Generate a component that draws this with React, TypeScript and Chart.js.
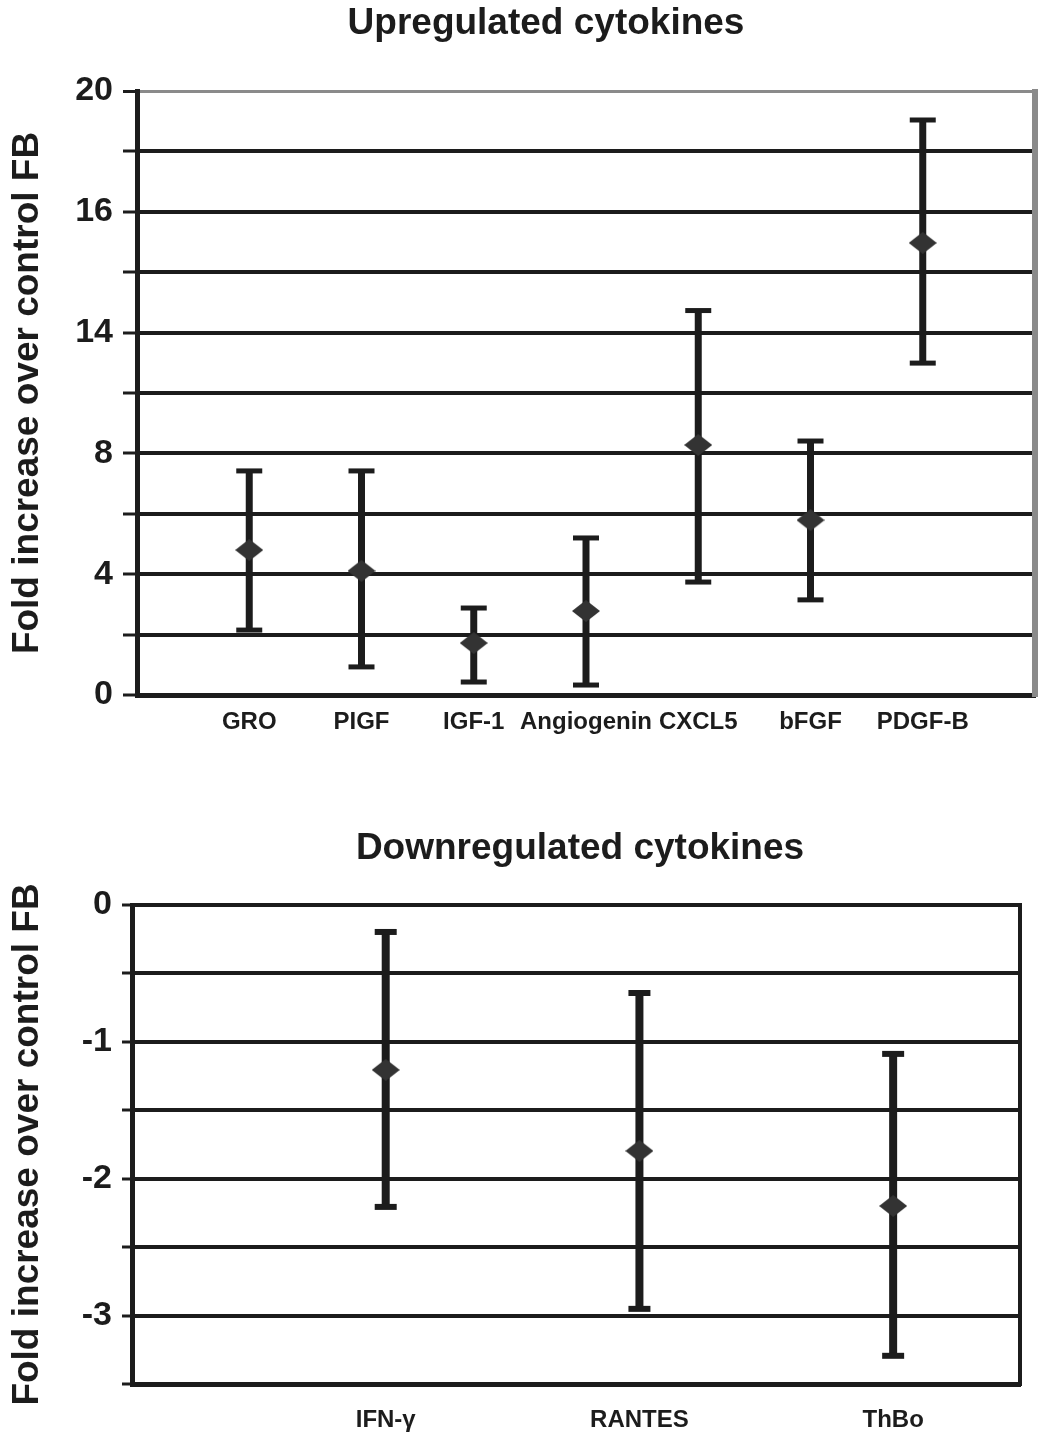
import React, { useEffect, useRef } from "react";
import { Chart, registerables } from "chart.js";

Chart.register(...registerables);

const FONT = '"Liberation Sans", Arial, Helvetica, sans-serif';
const INK = "#1c1c1c";
const GRAY = "#8a8a8a";

// ---------- Upregulated cytokines ----------
const upTitle = "Upregulated cytokines";
const upCategories = ["GRO", "PIGF", "IGF-1", "Angiogenin", "CXCL5", "bFGF", "PDGF-B"];
const upMean = [4.8, 4.11, 1.72, 2.78, 8.28, 5.79, 14.97];
const upLow = [2.15, 0.93, 0.43, 0.33, 3.74, 3.15, 10.99];
const upHigh = [7.42, 7.42, 2.88, 5.2, 12.73, 8.41, 19.04];
const upTickValues = [0, 2, 4, 6, 8, 10, 12, 14, 16, 18, 20];
const upTickLabels = ["0", "", "4", "", "8", "", "14", "", "16", "", "20"];

// ---------- Downregulated cytokines ----------
const downTitle = "Downregulated cytokines";
const downCategories = ["IFN-γ", "RANTES", "ThBo"];
const downMean = [-1.205, -1.797, -2.199];
const downLow = [-2.206, -2.951, -3.294];
const downHigh = [-0.197, -0.643, -1.088];
const downTickValues = [-3.5, -3, -2.5, -2, -1.5, -1, -0.5, 0];
const downTickLabels = ["", "-3", "", "-2", "", "-1", "", "0"];

const yTitle = "Fold increase over control FB";

function makeDiamond(w: number, h: number, color: string) {
  const c = document.createElement("canvas");
  c.width = w;
  c.height = h;
  const g = c.getContext("2d")!;
  g.fillStyle = color;
  g.beginPath();
  g.moveTo(w / 2, 0);
  g.lineTo(w, h / 2);
  g.lineTo(w / 2, h);
  g.lineTo(0, h / 2);
  g.closePath();
  g.fill();
  return c;
}

function errorBarPlugin(id: string, low: number[], high: number[], o: { lw: number; capW: number; capT: number }) {
  return {
    id,
    beforeDatasetsDraw(chart: any) {
      const { ctx, scales } = chart;
      const x = scales.x;
      const y = scales.y;
      ctx.save();
      ctx.strokeStyle = INK;
      ctx.lineCap = "butt";
      low.forEach((lo, i) => {
        const px = x.getPixelForValue(i + 1);
        const yl = y.getPixelForValue(lo);
        const yh = y.getPixelForValue(high[i]);
        ctx.lineWidth = o.lw;
        ctx.beginPath();
        ctx.moveTo(px, yl);
        ctx.lineTo(px, yh);
        ctx.stroke();
        ctx.lineWidth = o.capT;
        [yl, yh].forEach((yy) => {
          ctx.beginPath();
          ctx.moveTo(px - o.capW / 2, yy);
          ctx.lineTo(px + o.capW / 2, yy);
          ctx.stroke();
        });
      });
      ctx.restore();
    },
  };
}

function rightBorderPlugin(id: string, color: string, width: number) {
  return {
    id,
    beforeDatasetsDraw(chart: any) {
      const { ctx, chartArea } = chart;
      ctx.save();
      ctx.strokeStyle = color;
      ctx.lineWidth = width;
      ctx.beginPath();
      ctx.moveTo(chartArea.right, chartArea.top - 2);
      ctx.lineTo(chartArea.right, chartArea.bottom + 2);
      ctx.stroke();
      ctx.restore();
    },
  };
}

function titlePlugin(id: string, text: string, cx: number, baseline: number, size: number) {
  return {
    id,
    afterDraw(chart: any) {
      const { ctx } = chart;
      ctx.save();
      ctx.fillStyle = INK;
      ctx.font = `bold ${size}px ${FONT}`;
      ctx.textAlign = "center";
      ctx.textBaseline = "alphabetic";
      ctx.fillText(text, cx, baseline);
      ctx.restore();
    },
  };
}

function buildConfig(p: {
  categories: string[];
  mean: number[];
  low: number[];
  high: number[];
  tickValues: number[];
  tickLabels: string[];
  xMax: number;
  yMin: number;
  yMax: number;
  padTop: number;
  padRight: number;
  yWidth: number;
  xHeight: number;
  tickFont: number;
  tickLength: number;
  topGray: boolean;
  rightColor: string;
  rightWidth: number;
  title: string;
  titleX: number;
  titleBase: number;
  xPad: number;
  bar: { lw: number; capW: number; capT: number };
  key: string;
}) {
  const diamond = makeDiamond(28, 22, "#333333");
  return {
    type: "scatter" as const,
    data: {
      datasets: [
        {
          data: p.mean.map((v, i) => ({ x: i + 1, y: v })),
          pointStyle: diamond as any,
          pointRadius: 12,
          pointHoverRadius: 12,
          showLine: false,
        },
      ],
    },
    options: {
      animation: false as const,
      responsive: false,
      events: [] as any[],
      layout: { padding: { top: p.padTop, right: p.padRight, left: 0, bottom: 0 } },
      plugins: {
        legend: { display: false },
        tooltip: { enabled: false },
        title: { display: false },
      },
      scales: {
        x: {
          type: "linear" as const,
          min: 0,
          max: p.xMax,
          afterBuildTicks: (s: any) => {
            s.ticks = p.categories.map((_, i) => ({ value: i + 1 }));
          },
          afterFit: (s: any) => {
            s.height = p.xHeight;
          },
          ticks: {
            autoSkip: false,
            maxRotation: 0,
            minRotation: 0,
            padding: p.xPad,
            color: INK,
            font: { family: FONT, size: 24, weight: "bold" as const },
            callback: (v: any) => p.categories[Number(v) - 1] ?? "",
          },
          grid: { display: false },
          border: { display: true, color: INK, width: 5 },
        },
        y: {
          type: "linear" as const,
          min: p.yMin,
          max: p.yMax,
          afterBuildTicks: (s: any) => {
            s.ticks = p.tickValues.map((v) => ({ value: v }));
          },
          afterFit: (s: any) => {
            s.width = p.yWidth;
          },
          ticks: {
            padding: 10,
            color: INK,
            font: { family: FONT, size: p.tickFont, weight: "bold" as const },
            callback: (_v: any, i: number) => p.tickLabels[i] ?? "",
          },
          grid: {
            drawTicks: true,
            tickLength: p.tickLength,
            tickColor: INK,
            tickWidth: 3,
            color: (c: any) => (p.topGray && c.tick && c.tick.value === p.yMax ? GRAY : INK),
            lineWidth: (c: any) => (p.topGray && c.tick && c.tick.value === p.yMax ? 3 : 4),
          },
          border: { display: true, color: INK, width: 5 },
          title: {
            display: true,
            text: yTitle,
            color: INK,
            font: { family: FONT, size: 37, weight: "bold" as const },
            padding: { top: 6, bottom: 0 },
          },
        },
      },
    },
    plugins: [
      errorBarPlugin("eb_" + p.key, p.low, p.high, p.bar),
      rightBorderPlugin("rb_" + p.key, p.rightColor, p.rightWidth),
      titlePlugin("tt_" + p.key, p.title, p.titleX, p.titleBase, 37),
    ],
  };
}

export default function App() {
  const topRef = useRef<HTMLCanvasElement>(null);
  const botRef = useRef<HTMLCanvasElement>(null);

  useEffect(() => {
    const top = new Chart(
      topRef.current!,
      buildConfig({
        categories: upCategories,
        mean: upMean,
        low: upLow,
        high: upHigh,
        tickValues: upTickValues,
        tickLabels: upTickLabels,
        xMax: upCategories.length + 1,
        yMin: 0,
        yMax: 20,
        padTop: 91,
        padRight: 7,
        yWidth: 137,
        xHeight: 65,
        tickFont: 34,
        tickLength: 14,
        topGray: true,
        rightColor: GRAY,
        rightWidth: 6,
        title: upTitle,
        titleX: 546,
        titleBase: 34,
        xPad: 5,
        bar: { lw: 7, capW: 26, capT: 5 },
        key: "up",
      }) as any
    );
    const bot = new Chart(
      botRef.current!,
      buildConfig({
        categories: downCategories,
        mean: downMean,
        low: downLow,
        high: downHigh,
        tickValues: downTickValues,
        tickLabels: downTickLabels,
        xMax: 3.5,
        yMin: -3.5,
        yMax: 0,
        padTop: 145,
        padRight: 28,
        yWidth: 132,
        xHeight: 50,
        tickFont: 34,
        tickLength: 10,
        topGray: false,
        rightColor: INK,
        rightWidth: 4,
        title: downTitle,
        titleX: 580,
        titleBase: 99,
        xPad: 14,
        bar: { lw: 8, capW: 22, capT: 6 },
        key: "down",
      }) as any
    );
    return () => {
      top.destroy();
      bot.destroy();
    };
  }, []);

  return (
    <div
      style={{
        position: "absolute",
        left: 0,
        top: 0,
        width: 1048,
        height: 1434,
        background: "#ffffff",
        overflow: "hidden",
      }}
    >
      <canvas
        ref={topRef}
        width={1048}
        height={760}
        style={{ position: "absolute", left: 0, top: 0, width: 1048, height: 760 }}
      />
      <canvas
        ref={botRef}
        width={1048}
        height={674}
        style={{ position: "absolute", left: 0, top: 760, width: 1048, height: 674 }}
      />
    </div>
  );
}
